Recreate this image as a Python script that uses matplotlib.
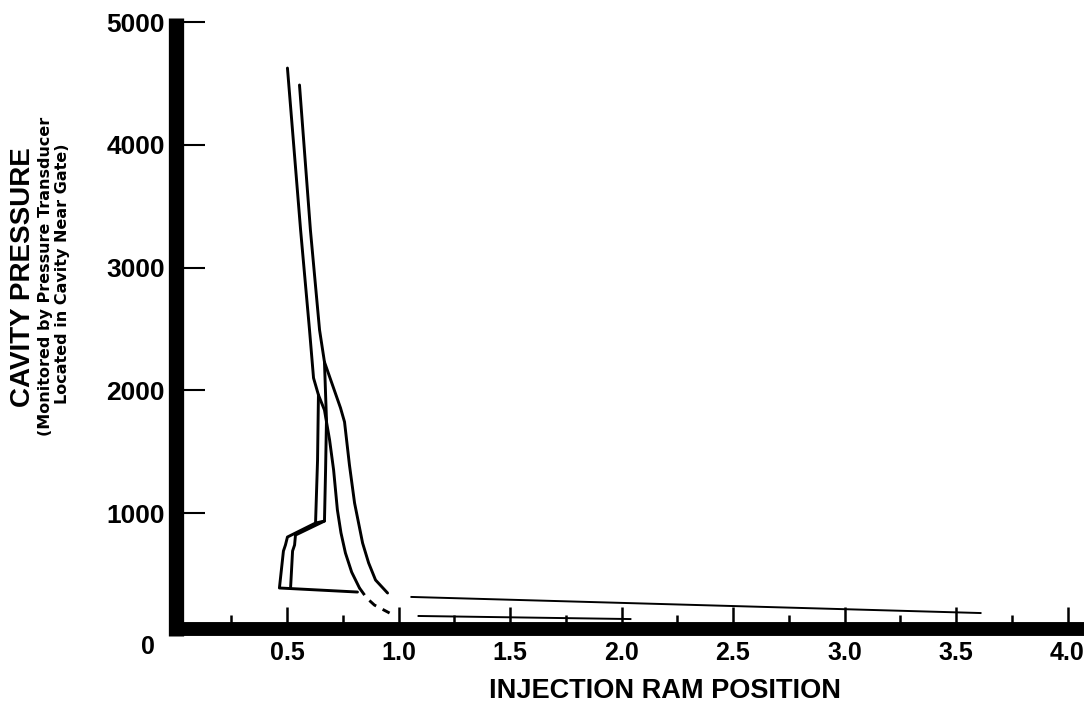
import matplotlib
matplotlib.use('Agg')
import matplotlib.pyplot as plt

plt.rcParams['font.family'] = ['Liberation Sans', 'DejaVu Sans']
plt.rcParams['font.weight'] = 'bold'

# traces (x = ram position, y = cavity pressure)
upper_left_x = [0.502, 0.561, 0.601, 0.619, 0.641, 0.668, 0.691, 0.709, 0.726, 0.742, 0.762, 0.790, 0.825]
upper_left_y = [4625, 3306, 2492, 2101, 1963, 1840, 1596, 1352, 1026, 840, 676, 520, 391]

tail_dash_x = [0.825, 0.857, 0.892, 0.960]
tail_dash_y = [391, 310, 252, 187]

upper_right_x = [0.556, 0.605, 0.646, 0.668, 0.740, 0.758, 0.780, 0.803, 0.839, 0.866, 0.897, 0.951]
upper_right_y = [4487, 3306, 2492, 2231, 1857, 1743, 1393, 1083, 757, 595, 456, 350]

loop_inner_x = [0.641, 0.637, 0.628, 0.502, 0.493, 0.484, 0.466, 0.816]
loop_inner_y = [1963, 1433, 920, 806, 741, 692, 391, 358]

loop_outer_x = [0.668, 0.677, 0.673, 0.668, 0.538, 0.534, 0.525, 0.516]
loop_outer_y = [2231, 1759, 1352, 936, 822, 741, 692, 391]

loop_join_x = [0.628, 0.668]
loop_join_y = [920, 936]

long_upper_x = [1.058, 3.610]
long_upper_y = [318, 187]

long_lower_x = [1.090, 2.040]
long_lower_y = [163, 138]

x_major = [0.5, 1.0, 1.5, 2.0, 2.5, 3.0, 3.5, 4.0]
x_major_labels = ['0.5', '1.0', '1.5', '2.0', '2.5', '3.0', '3.5', '4.0']
x_minor = [0.25, 0.75, 1.25, 1.75, 2.25, 2.75, 3.25, 3.75]
y_ticks = [1000, 2000, 3000, 4000, 5000]
y_labels = ['1000', '2000', '3000', '4000', '5000']

W, H = 1084, 707
fig = plt.figure(figsize=(W / 100, H / 100), dpi=100)
ax = fig.add_axes([175.5 / W, 1 - 636 / H, 1 - 175.5 / W, (636 - 18) / H])
ax.set_xlim(0, (W - 175.5) / 223)
ax.set_ylim(0, (636 - 18) / 0.1228)

lw = 2.1
style = dict(color='black', lw=lw, solid_joinstyle='round', solid_capstyle='round')
ax.plot(upper_left_x, upper_left_y, **style)
ax.plot(tail_dash_x, tail_dash_y, color='black', lw=lw, ls=(0, (3, 2.5)))
ax.plot(upper_right_x, upper_right_y, **style)
ax.plot(loop_inner_x, loop_inner_y, **style)
ax.plot(loop_outer_x, loop_outer_y, **style)
ax.plot(loop_join_x, loop_join_y, **style)
ax.plot(long_upper_x, long_upper_y, color='black', lw=1.4)
ax.plot(long_lower_x, long_lower_y, color='black', lw=1.4)

for s in ['top', 'right']:
    ax.spines[s].set_visible(False)
ax.spines['left'].set_linewidth(11)
ax.spines['left'].set_capstyle('butt')
ax.spines['bottom'].set_linewidth(10)
ax.spines['bottom'].set_capstyle('butt')
ax.spines['bottom'].set_position(('data', 60))

ax.set_xticks(x_major, x_major_labels)
ax.set_xticks(x_minor, minor=True)
ax.set_yticks(y_ticks, y_labels)
ax.tick_params(axis='x', which='major', direction='in', length=16, width=1.8,
               pad=9, labelsize=18)
ax.tick_params(axis='x', which='minor', direction='in', length=10, width=1.8)
ax.tick_params(axis='y', direction='in', length=21, width=1.5, pad=7.5, labelsize=19)

fig.text(148 / W, 1 - 647 / H, '0', ha='center', va='center', fontsize=18)
fig.text(665 / W, 1 - 691 / H, 'INJECTION RAM POSITION', ha='center', va='center',
         fontsize=19.5)
fig.text(23 / W, 1 - 277 / H, 'CAVITY PRESSURE', rotation=90, ha='center',
         va='center', fontsize=20)
fig.text(46 / W, 1 - 276 / H, '(Monitored by Pressure Transducer', rotation=90,
         ha='center', va='center', fontsize=11.5, family='DejaVu Sans')
fig.text(63 / W, 1 - 274 / H, 'Located in Cavity Near Gate)', rotation=90,
         ha='center', va='center', fontsize=11.5, family='DejaVu Sans')

fig.savefig('out.png', dpi=100)
